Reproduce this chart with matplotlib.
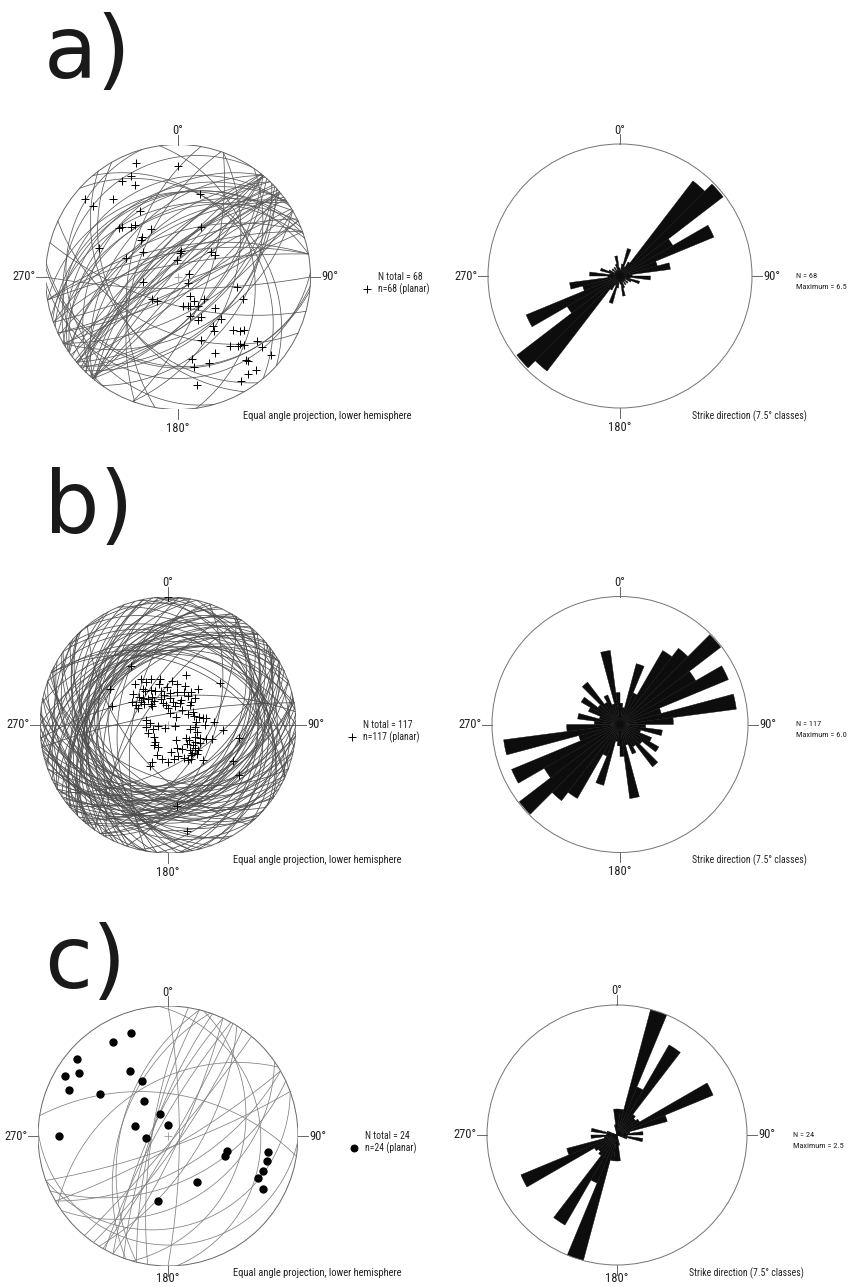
import numpy as np
import matplotlib
matplotlib.use("Agg")
import matplotlib.pyplot as plt
from matplotlib import font_manager
from matplotlib.lines import Line2D

W, H = 849, 1287

# ---- pole data (trend, plunge in degrees) ----
a_trend = [340, 0, 330, 335, 335, 310, 310, 320, 330, 310, 317, 330, 15, 290, 290,
           305, 315, 25, 4, 358, 53, 60, 74, 124, 262, 230, 222, 148, 146, 170,
           161, 145, 130, 130, 163, 155, 134, 145, 146, 100, 109, 134, 129, 160, 143,
           139, 136, 129, 130, 130, 154, 170, 160, 170, 140, 140, 144, 149, 170,
           312, 6, 141, 320, 137, 158, 131, 318, 150]
a_plunge = [5, 10, 10, 10, 15, 5, 10, 15, 30, 30, 35, 45, 24, 25, 45,
            54, 47, 45, 69, 75, 55, 54, 80, 80, 60, 61, 63, 71, 65, 65,
            64, 60, 61, 50, 56, 51, 41, 41, 38, 41, 35, 30, 25, 36, 24,
            21, 19, 15, 11, 5, 25, 26, 21, 21, 11, 5, 6, 5, 11,
            31, 68, 12, 36, 21, 63, 26, 46, 52]

b_trend = [328, 321, 333, 326, 348, 349, 358, 12, 20, 23, 40, 34, 51, 312, 314,
           323, 322, 311, 302, 330, 347, 12, 27, 45, 47, 0, 47, 8, 283, 62,
           79, 79, 86, 83, 264, 257, 247, 225, 98, 103, 125, 122, 113, 108, 151,
           219, 205, 173, 162, 139, 131, 130, 142, 146, 204, 204, 100, 95, 302, 3,
           42, 119, 125, 174, 170, 302, 289,
           325, 340, 352, 318, 330, 5, 15, 25, 335, 310, 300, 345, 355, 20, 30,
           60, 75, 90, 95, 115, 135, 150, 160, 140, 150, 155, 135, 128, 120, 110,
           230, 215, 200, 190, 265, 275, 340, 350, 330, 5, 35, 45, 70, 100, 125,
           170, 180, 135, 320, 0]
b_plunge = [33, 45, 49, 54, 54, 60, 57, 54, 45, 53, 50, 59, 35, 50, 55,
            61, 66, 59, 57, 66, 70, 69, 65, 57, 64, 75, 80, 79, 70, 65,
            59, 56, 50, 65, 81, 76, 71, 86, 84, 64, 67, 62, 60, 50, 75,
            71, 69, 66, 61, 61, 59, 56, 57, 54, 55, 51, 31, 43, 53, 62,
            72, 30, 22, 25, 10, 34, 40,
            52, 58, 63, 58, 62, 66, 60, 58, 56, 62, 60, 66, 72, 72, 68,
            70, 62, 58, 66, 64, 66, 66, 68, 58, 55, 58, 54, 62, 58, 55,
            74, 68, 62, 60, 70, 74, 48, 50, 45, 52, 55, 62, 66, 70, 70,
            60, 58, 48, 68, 0]

c_trend = [340, 330, 310, 300, 305, 295, 330, 302, 335, 325, 340, 2,
           286, 266, 270, 104, 109, 99, 104, 110, 115, 119, 148, 189]
c_plunge = [10, 10, 5, 5, 10, 10, 30, 27, 40, 54, 70, 80,
            60, 71, 10, 40, 40, 14, 14, 14, 15, 10, 45, 36]

# ---- rose diagram values, 7.5 degree strike classes from 0 to 180 ----
rose_a = [0.3, 0.6, 1.4, 0.5, 0.8, 5.9, 6.4, 3.0, 5.0, 1.9, 2.5, 0.6,
          1.5, 0.5, 1.0, 0.6, 0.3, 0.5, 0.3, 0.5, 0.3, 0.6, 1.0, 0.4]
rose_b = [1.0, 0.8, 2.95, 1.6, 4.0, 4.5, 5.95, 4.1, 5.5, 2.0, 5.5, 2.5,
          1.2, 2.0, 1.0, 1.6, 2.1, 1.3, 2.5, 1.2, 1.5, 1.0, 3.5, 1.5]
rose_c = [0.5, 0.5, 2.5, 1.0, 2.0, 0.5, 0.45, 0.5, 2.0, 1.0, 0.25, 0.5,
          0.2, 0.5, 0.2, 0.0, 0.0, 0.0, 0.0, 0.0, 0.0, 0.0, 0.2, 0.5]
rose_max = [6.5, 6.0, 2.5]
n_total = [68, 117, 24]

# a narrow face if one is installed, otherwise Liberation Sans at smaller sizes
names = {f.name for f in font_manager.fontManager.ttflist}
narrow = None
for nm in ["Liberation Sans Narrow", "Roboto Condensed", "Open Sans Condensed"]:
    if nm in names:
        narrow = nm
        break
if narrow:
    small_font = dict(family=narrow)
    sz_cap, sz_strike, sz_leg, sz_rleg, sz_deg = 7.6, 7.0, 7, 6.0, 9
else:
    small_font = dict(family="Liberation Sans")
    sz_cap, sz_strike, sz_leg, sz_rleg, sz_deg = 7.0, 6.4, 6.2, 5.3, 8.2
txt_col = "#222222"

fig = plt.figure(figsize=(W / 100, H / 100), dpi=100)


def rect(cx, cy, R):
    return [(cx - R) / W, 1 - (cy + R) / H, 2 * R / W, 2 * R / H]


def ftext(x, y, s, **kw):
    fig.text(x / W, 1 - y / H, s, **kw)


def proj(trend, plunge):
    t = np.radians(trend)
    p = np.radians(plunge)
    r = np.tan(np.pi / 4 - p / 2)
    return r * np.sin(t), r * np.cos(t)


def great_circle(pt, pp, n=200):
    dd = np.radians(pt + 180)
    dip = np.radians(90 - pp)
    s = dd - np.pi / 2
    t = np.linspace(0, np.pi, n)
    sv = np.array([np.sin(s), np.cos(s), 0.0])
    dv = np.array([np.sin(dd) * np.cos(dip), np.cos(dd) * np.cos(dip), np.sin(dip)])
    v = np.outer(np.cos(t), sv) + np.outer(np.sin(t), dv)
    e, nn, d = v.T
    return e / (1 + d), nn / (1 + d)


def compass_labels(cx, cy, R, bottom_off=19):
    kw = dict(fontsize=sz_deg, color=txt_col, **small_font)
    ftext(cx, cy - R - 14, "0°", ha="center", va="center", **kw)
    ftext(cx + R + 11, cy, "90°", ha="left", va="center", **kw)
    ftext(cx - R - 10, cy, "270°", ha="right", va="center", **kw)
    ftext(cx, cy + R + bottom_off, "180°", ha="center", va="center", **kw)


def stereonet(cx, cy, R, trends, plunges, dots, lc, n, bottom_off=19):
    ax = fig.add_axes(rect(cx, cy, R))
    ax.set_xlim(-1, 1)
    ax.set_ylim(-1, 1)
    ax.axis("off")
    for t, p in zip(trends, plunges):
        x, y = great_circle(t, p)
        ax.plot(x, y, color=lc, lw=0.55)
    ax.add_patch(plt.Circle((0, 0), 1, fill=False, ec="0.4", lw=0.7))
    tk = 0.075
    for xs, ys in [([0, 0], [1, 1 + tk]), ([1, 1 + tk], [0, 0]),
                   ([0, 0], [-1, -1 - tk]), ([-1, -1 - tk], [0, 0])]:
        ax.plot(xs, ys, color="0.4", lw=0.7, clip_on=False)
    ax.plot(0, 0, "+", color="0.6", ms=6, mew=0.6)
    px, py = proj(np.array(trends, float), np.array(plunges, float))
    if dots:
        ax.plot(px, py, "o", color="black", ms=5, ls="none")
    else:
        ax.plot(px, py, "+", color="black", ms=6, mew=0.7, ls="none")
    compass_labels(cx, cy, R, bottom_off)
    ftext(cx + 65, cy + R + 7, "Equal angle projection, lower hemisphere",
          ha="left", va="center", fontsize=sz_cap, color=txt_col, **small_font)
    lx, ly = cx + R + 67, cy
    ftext(lx, ly, f"N total = {n}", ha="left", va="center", fontsize=sz_leg,
          color=txt_col, **small_font)
    ftext(lx, ly + 12, f"n={n} (planar)", ha="left", va="center", fontsize=sz_leg,
          color=txt_col, **small_font)
    key = Line2D([(lx - 11) / W], [1 - (ly + 12) / H], transform=fig.transFigure,
                 marker="o" if dots else "+", color="black",
                 ms=5 if dots else 6, mew=0.7, ls="none")
    fig.add_artist(key)


def rose(cx, cy, R, vals, vmax, n, bottom_off=19):
    ax = fig.add_axes(rect(cx, cy, R), projection="polar")
    ax.set_theta_zero_location("N")
    ax.set_theta_direction(-1)
    full = list(vals) + list(vals)
    theta = np.radians(np.arange(48) * 7.5)
    ax.bar(theta, full, width=np.radians(7.5), bottom=0, align="edge",
           color="#0d0d0d", edgecolor="#0d0d0d", linewidth=0.3)
    ax.set_ylim(0, vmax)
    ax.grid(False)
    ax.set_xticks([])
    ax.set_yticks([])
    ax.spines["polar"].set_color("0.45")
    ax.spines["polar"].set_linewidth(0.7)
    ax.patch.set_alpha(0)
    for a in [0, 90, 180, 270]:
        ax.plot([np.radians(a)] * 2, [vmax, vmax * 1.075], color="0.4", lw=0.7,
                clip_on=False)
    compass_labels(cx, cy, R, bottom_off)
    ftext(cx + 72, cy + R + 8, "Strike direction (7.5° classes)",
          ha="left", va="center", fontsize=sz_strike, color=txt_col, **small_font)
    ftext(cx + 176, cy, f"N = {n}", ha="left", va="center", fontsize=sz_rleg,
          color=txt_col, **small_font)
    ftext(cx + 176, cy + 11, f"Maximum = {vmax}", ha="left", va="center",
          fontsize=sz_rleg, color=txt_col, **small_font)


stereonet(178, 277, 132.5, a_trend, a_plunge, False, "0.35", n_total[0])
rose(620, 276, 132, rose_a, rose_max[0], n_total[0])
stereonet(168, 725, 128, b_trend, b_plunge, False, "0.3", n_total[1])
rose(620, 724.5, 128, rose_b, rose_max[1], n_total[1])
stereonet(168, 1136, 130, c_trend, c_plunge, True, "0.5", n_total[2], bottom_off=13)
rose(617, 1135, 130, rose_c, rose_max[2], n_total[2], bottom_off=13)

for lab, y in [("a)", 54), ("b)", 509), ("c)", 964)]:
    ftext(44, y, lab, ha="left", va="center", fontsize=63,
          family="DejaVu Sans", color="#1a1a1a")

fig.savefig("out.png", dpi=100)
